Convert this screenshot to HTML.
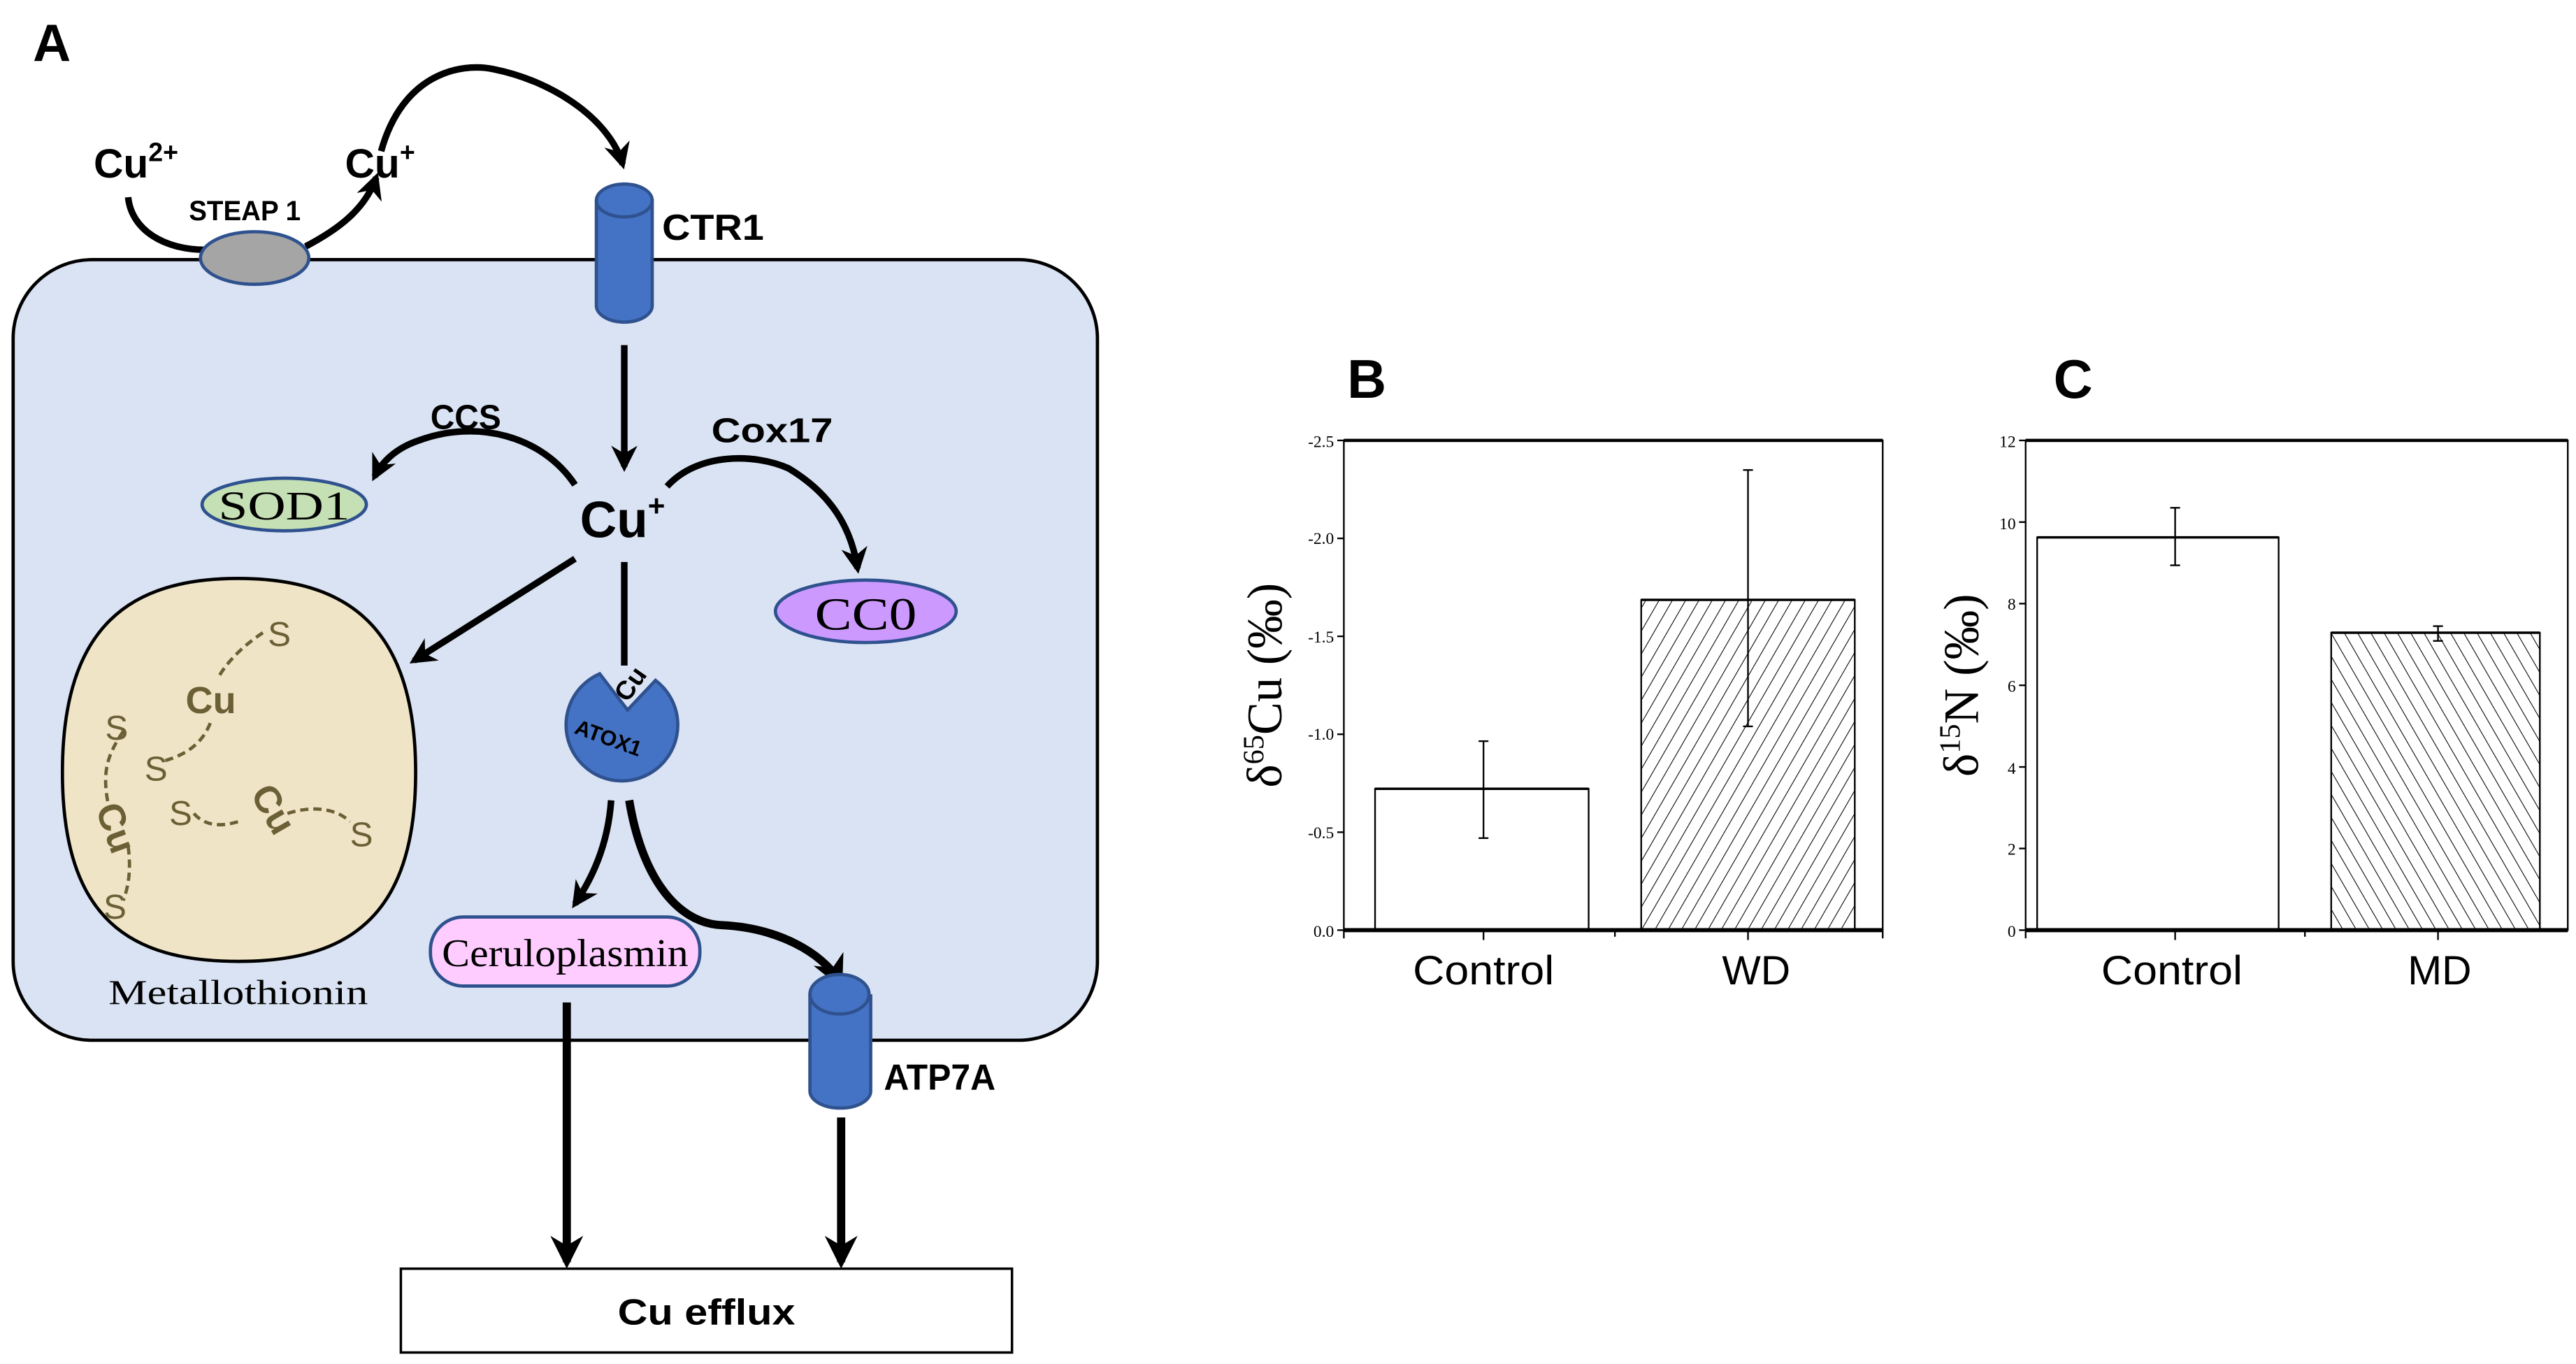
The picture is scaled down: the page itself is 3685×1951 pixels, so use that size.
<!DOCTYPE html>
<html><head><meta charset="utf-8"><style>
html,body{margin:0;padding:0;background:#fff;width:3685px;height:1951px;overflow:hidden}
svg{display:block}
.b{font-family:"Liberation Sans",sans-serif;font-weight:bold}
.t{font-family:"Liberation Serif",serif}
</style></head><body>
<svg width="3685" height="1951" viewBox="0 0 1568 830" preserveAspectRatio="none" xmlns="http://www.w3.org/2000/svg">
<defs>
<marker id="ah" viewBox="0 0 10 10" refX="8" refY="5" markerWidth="4" markerHeight="4" orient="auto" markerUnits="strokeWidth">
<path d="M0,0 L10,5 L0,10 L3,5 Z" fill="#000"/></marker>
<pattern id="hb" width="7" height="7" patternUnits="userSpaceOnUse" patternTransform="rotate(30)">
<line x1="0" y1="0" x2="0" y2="7" stroke="#000" stroke-width="0.9"/></pattern>
<pattern id="hc" width="7" height="7" patternUnits="userSpaceOnUse" patternTransform="rotate(-30)">
<line x1="0" y1="0" x2="0" y2="7" stroke="#000" stroke-width="0.9"/></pattern>
</defs>
<rect width="1568" height="830" fill="#fff"/>
<text x="20" y="37" class="b" font-size="32">A</text>
<rect x="8" y="158" width="660" height="475" rx="48" fill="#dae3f3" stroke="#000" stroke-width="2"/>
<path d="M78,120 C80,140 100,152 125,152" fill="none" stroke="#000" stroke-width="4"/>
<path d="M186,150 C205,140 222,128 229,108" fill="none" stroke="#000" stroke-width="4" marker-end="url(#ah)"/>
<ellipse cx="155" cy="157" rx="33" ry="16" fill="#a5a5a5" stroke="#2f528f" stroke-width="2"/>
<text x="57" y="108" class="b" font-size="25">Cu<tspan font-size="16" dy="-10">2+</tspan></text>
<text x="210" y="108" class="b" font-size="25">Cu<tspan font-size="16" dy="-10">+</tspan></text>
<text x="115" y="134" class="b" font-size="17" textLength="68" lengthAdjust="spacingAndGlyphs">STEAP 1</text>
<path d="M232,92 C245,45 280,38 300,42 C340,50 372,75 379,100" fill="none" stroke="#000" stroke-width="4" marker-end="url(#ah)"/>
<path d="M363,122 L363,186 A17,10 0 0 0 397,186 L397,122" fill="#4472c4" stroke="#2f528f" stroke-width="2"/>
<ellipse cx="380" cy="122" rx="17" ry="10" fill="#4472c4" stroke="#2f528f" stroke-width="2"/>
<text x="403" y="146" class="b" font-size="22" textLength="62" lengthAdjust="spacingAndGlyphs">CTR1</text>
<line x1="380" y1="210" x2="380" y2="284" stroke="#000" stroke-width="4" marker-end="url(#ah)"/>
<text x="353" y="327" class="b" font-size="31">Cu<tspan font-size="18" dy="-13">+</tspan></text>
<text x="262" y="261" class="b" font-size="21" textLength="43" lengthAdjust="spacingAndGlyphs">CCS</text>
<path d="M350,295 C330,265 290,255 255,268 C240,273 232,282 228,290" fill="none" stroke="#000" stroke-width="4" marker-end="url(#ah)"/>
<ellipse cx="173" cy="307" rx="50" ry="16" fill="#c5e0b4" stroke="#2f528f" stroke-width="2"/>
<text x="173" y="316" text-anchor="middle" class="t" font-size="25" textLength="80" lengthAdjust="spacingAndGlyphs">SOD1</text>
<text x="433" y="269" class="b" font-size="21" textLength="74" lengthAdjust="spacingAndGlyphs">Cox17</text>
<path d="M406,296 C425,275 460,276 480,285 C505,300 518,320 522,346" fill="none" stroke="#000" stroke-width="4" marker-end="url(#ah)"/>
<ellipse cx="527" cy="372" rx="55" ry="19" fill="#cc99ff" stroke="#2f528f" stroke-width="2"/>
<text x="527" y="383" text-anchor="middle" class="t" font-size="28" textLength="62" lengthAdjust="spacingAndGlyphs">CC0</text>
<line x1="350" y1="340" x2="252" y2="402" stroke="#000" stroke-width="4" marker-end="url(#ah)"/>
<line x1="380" y1="342" x2="380" y2="405" stroke="#000" stroke-width="4"/>
<path d="M38,470 C38,380 80,352 145,352 C210,352 253,380 253,470 C253,560 210,585 145,585 C80,585 38,560 38,470 Z" fill="#efe4c6" stroke="#000" stroke-width="2"/>
<g fill="none" stroke="#6b5f35" stroke-width="2" stroke-dasharray="5,3">
<path d="M160,385 C145,395 137,405 133,412"/>
<path d="M128,440 C122,455 110,460 100,463"/>
<path d="M75,445 C65,460 62,470 66,490"/>
<path d="M78,515 C80,530 78,540 75,548"/>
<path d="M118,495 C125,503 135,503 145,500"/>
<path d="M175,495 C190,490 205,492 213,500"/>
</g>
<g fill="#6b5f35" font-family="Liberation Sans,sans-serif">
<text x="163" y="393" font-size="21">S</text>
<text x="113" y="434" font-size="23" font-weight="bold">Cu</text>
<text x="64" y="450" font-size="21">S</text>
<text x="88" y="475" font-size="21">S</text>
<text x="103" y="502" font-size="21">S</text>
<text x="213" y="515" font-size="21">S</text>
<text x="63" y="559" font-size="21">S</text>
<text transform="translate(58,492) rotate(70)" font-size="23" font-weight="bold">Cu</text>
<text transform="translate(152,483) rotate(60)" font-size="23" font-weight="bold">Cu</text>
</g>
<text x="145" y="611" text-anchor="middle" class="t" font-size="21" textLength="158" lengthAdjust="spacingAndGlyphs">Metallothionin</text>
<path d="M365,410 L382,432 L399,414 A34,34 0 1 1 365,410 Z" fill="#4472c4" stroke="#2f528f" stroke-width="2"/>
<text transform="translate(382,428) rotate(-55)" class="b" font-size="16">Cu</text>
<text transform="translate(349,446) rotate(20)" class="b" font-size="13" fill="#000">ATOX1</text>
<path d="M372,487 C370,515 360,535 350,550" fill="none" stroke="#000" stroke-width="4" marker-end="url(#ah)"/>
<path d="M383,487 C390,530 410,562 440,563 C480,565 505,585 511,598" fill="none" stroke="#000" stroke-width="5" marker-end="url(#ah)"/>
<rect x="262" y="558" width="164" height="42" rx="20" fill="#ffccff" stroke="#2f528f" stroke-width="2"/>
<text x="344" y="588" text-anchor="middle" class="t" font-size="24" textLength="150" lengthAdjust="spacingAndGlyphs">Ceruloplasmin</text>
<path d="M493,605 L493,664 A18,10 0 0 0 530,664 L530,605" fill="#4472c4" stroke="#2f528f" stroke-width="2"/>
<ellipse cx="511" cy="605" rx="18" ry="12" fill="#4472c4" stroke="#2f528f" stroke-width="2"/>
<text x="538" y="663" class="b" font-size="22" textLength="68" lengthAdjust="spacingAndGlyphs">ATP7A</text>
<line x1="345" y1="610" x2="345" y2="768" stroke="#000" stroke-width="5" marker-end="url(#ah)"/>
<line x1="512" y1="680" x2="512" y2="768" stroke="#000" stroke-width="5" marker-end="url(#ah)"/>
<rect x="244" y="772" width="372" height="51" fill="#fff" stroke="#000" stroke-width="1.5"/>
<text x="430" y="806" text-anchor="middle" class="b" font-size="22" textLength="108" lengthAdjust="spacingAndGlyphs">Cu efflux</text>

<text x="820" y="242" class="b" font-size="33">B</text>
<rect x="837" y="480" width="130" height="86" fill="#fff" stroke="#000" stroke-width="1"/>
<rect x="999" y="365" width="130" height="201" fill="url(#hb)" stroke="#000" stroke-width="1"/>
<line x1="837" y1="480" x2="967" y2="480" stroke="#000" stroke-width="1.5"/>
<line x1="999" y1="365" x2="1129" y2="365" stroke="#000" stroke-width="1.5"/>
<g stroke="#000" stroke-width="1">
<line x1="903" y1="451" x2="903" y2="510"/><line x1="900" y1="451" x2="906" y2="451"/><line x1="900" y1="510" x2="906" y2="510"/>
<line x1="1064" y1="286" x2="1064" y2="442"/><line x1="1061" y1="286" x2="1067" y2="286"/><line x1="1061" y1="442" x2="1067" y2="442"/>
</g>
<rect x="818" y="268" width="328" height="298" fill="none" stroke="#000" stroke-width="1"/>
<line x1="818" y1="268" x2="1146" y2="268" stroke="#000" stroke-width="2"/>
<line x1="818" y1="566" x2="1146" y2="566" stroke="#000" stroke-width="2.5"/>
<g stroke="#000" stroke-width="1">
<line x1="814" y1="268" x2="818" y2="268"/><line x1="814" y1="327.6" x2="818" y2="327.6"/><line x1="814" y1="387.2" x2="818" y2="387.2"/><line x1="814" y1="446.8" x2="818" y2="446.8"/><line x1="814" y1="506.4" x2="818" y2="506.4"/><line x1="814" y1="566" x2="818" y2="566"/>
<line x1="903" y1="566" x2="903" y2="572"/><line x1="1064" y1="566" x2="1064" y2="572"/><line x1="983" y1="566" x2="983" y2="570"/><line x1="818" y1="566" x2="818" y2="571"/><line x1="1146" y1="566" x2="1146" y2="571"/>
</g>
<g class="t" font-size="10" text-anchor="end">
<text x="812" y="272">-2.5</text><text x="812" y="331">-2.0</text><text x="812" y="391">-1.5</text><text x="812" y="450">-1.0</text><text x="812" y="510">-0.5</text><text x="812" y="570">0.0</text>
</g>
<text x="903" y="599" text-anchor="middle" font-family="Liberation Sans,sans-serif" font-size="25" textLength="86" lengthAdjust="spacingAndGlyphs">Control</text>
<text x="1069" y="599" text-anchor="middle" font-family="Liberation Sans,sans-serif" font-size="25">WD</text>
<text transform="translate(780,417) rotate(-90)" text-anchor="middle" class="t" font-size="30">δ<tspan font-size="18" dy="-11">65</tspan><tspan dy="11">Cu (‰)</tspan></text>

<text x="1250" y="242" class="b" font-size="33">C</text>
<rect x="1240" y="327" width="147" height="239" fill="#fff" stroke="#000" stroke-width="1"/>
<rect x="1419" y="385" width="127" height="181" fill="url(#hc)" stroke="#000" stroke-width="1"/>
<line x1="1240" y1="327" x2="1387" y2="327" stroke="#000" stroke-width="1.5"/>
<line x1="1419" y1="385" x2="1546" y2="385" stroke="#000" stroke-width="1.5"/>
<g stroke="#000" stroke-width="1">
<line x1="1324" y1="309" x2="1324" y2="344"/><line x1="1321" y1="309" x2="1327" y2="309"/><line x1="1321" y1="344" x2="1327" y2="344"/>
<line x1="1484" y1="381" x2="1484" y2="390"/><line x1="1481" y1="381" x2="1487" y2="381"/><line x1="1481" y1="390" x2="1487" y2="390"/>
</g>
<rect x="1233" y="268" width="330" height="298" fill="none" stroke="#000" stroke-width="1"/>
<line x1="1233" y1="268" x2="1563" y2="268" stroke="#000" stroke-width="2"/>
<line x1="1233" y1="566" x2="1563" y2="566" stroke="#000" stroke-width="2.5"/>
<g stroke="#000" stroke-width="1">
<line x1="1229" y1="268" x2="1233" y2="268"/><line x1="1229" y1="317.7" x2="1233" y2="317.7"/><line x1="1229" y1="367.3" x2="1233" y2="367.3"/><line x1="1229" y1="417" x2="1233" y2="417"/><line x1="1229" y1="466.7" x2="1233" y2="466.7"/><line x1="1229" y1="516.3" x2="1233" y2="516.3"/><line x1="1229" y1="566" x2="1233" y2="566"/>
<line x1="1324" y1="566" x2="1324" y2="572"/><line x1="1484" y1="566" x2="1484" y2="572"/><line x1="1403" y1="566" x2="1403" y2="570"/><line x1="1233" y1="566" x2="1233" y2="571"/>
</g>
<g class="t" font-size="10" text-anchor="end">
<text x="1227" y="272">12</text><text x="1227" y="322">10</text><text x="1227" y="371">8</text><text x="1227" y="421">6</text><text x="1227" y="471">4</text><text x="1227" y="520">2</text><text x="1227" y="570">0</text>
</g>
<text x="1322" y="599" text-anchor="middle" font-family="Liberation Sans,sans-serif" font-size="25" textLength="86" lengthAdjust="spacingAndGlyphs">Control</text>
<text x="1485" y="599" text-anchor="middle" font-family="Liberation Sans,sans-serif" font-size="25">MD</text>
<text transform="translate(1204,417) rotate(-90)" text-anchor="middle" class="t" font-size="30">δ<tspan font-size="18" dy="-11">15</tspan><tspan dy="11">N (‰)</tspan></text>
</svg>
</body></html>
